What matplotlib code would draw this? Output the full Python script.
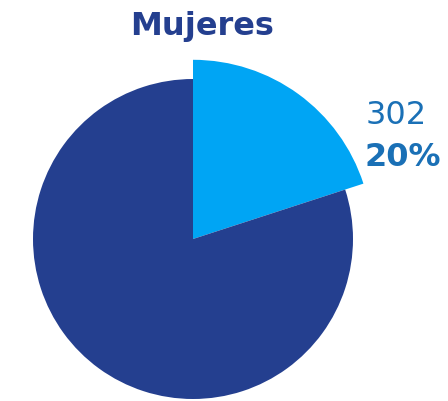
import matplotlib.pyplot as plt

# data
labels = ["Mujeres", "Resto"]
values = [302, 1208]
colors = ["#00A5F4", "#243F8F"]
title = "Mujeres"

total = sum(values)
pct = values[0] / total * 100

fig = plt.figure(figsize=(4.48, 4.02), dpi=100)
ax = fig.add_axes([0, 0, 1, 1])

# pie centre / radius in pixel units
cx, cy, r = 193, 162, 160
wedges, _ = ax.pie(values, colors=colors, startangle=90, counterclock=False,
                   radius=r, center=(cx, cy), frame=True)
# the highlighted slice sticks out a bit
wedges[0].set_radius(r * 1.12)
ax.set_xlim(0, 448)
ax.set_ylim(0, 402)
ax.axis("off")

ax.text(202, 376, title, ha="center", va="center", fontsize=23,
        fontweight="bold", color="#243F8F", family="DejaVu Sans")
ax.text(396, 286, f"{values[0]}", ha="center", va="center", fontsize=23,
        color="#1A70B6", family="DejaVu Sans")
ax.text(403, 244, f"{pct:.0f}%", ha="center", va="center", fontsize=23,
        fontweight="bold", color="#1A70B6", family="DejaVu Sans")

fig.savefig("out.png", dpi=100)
